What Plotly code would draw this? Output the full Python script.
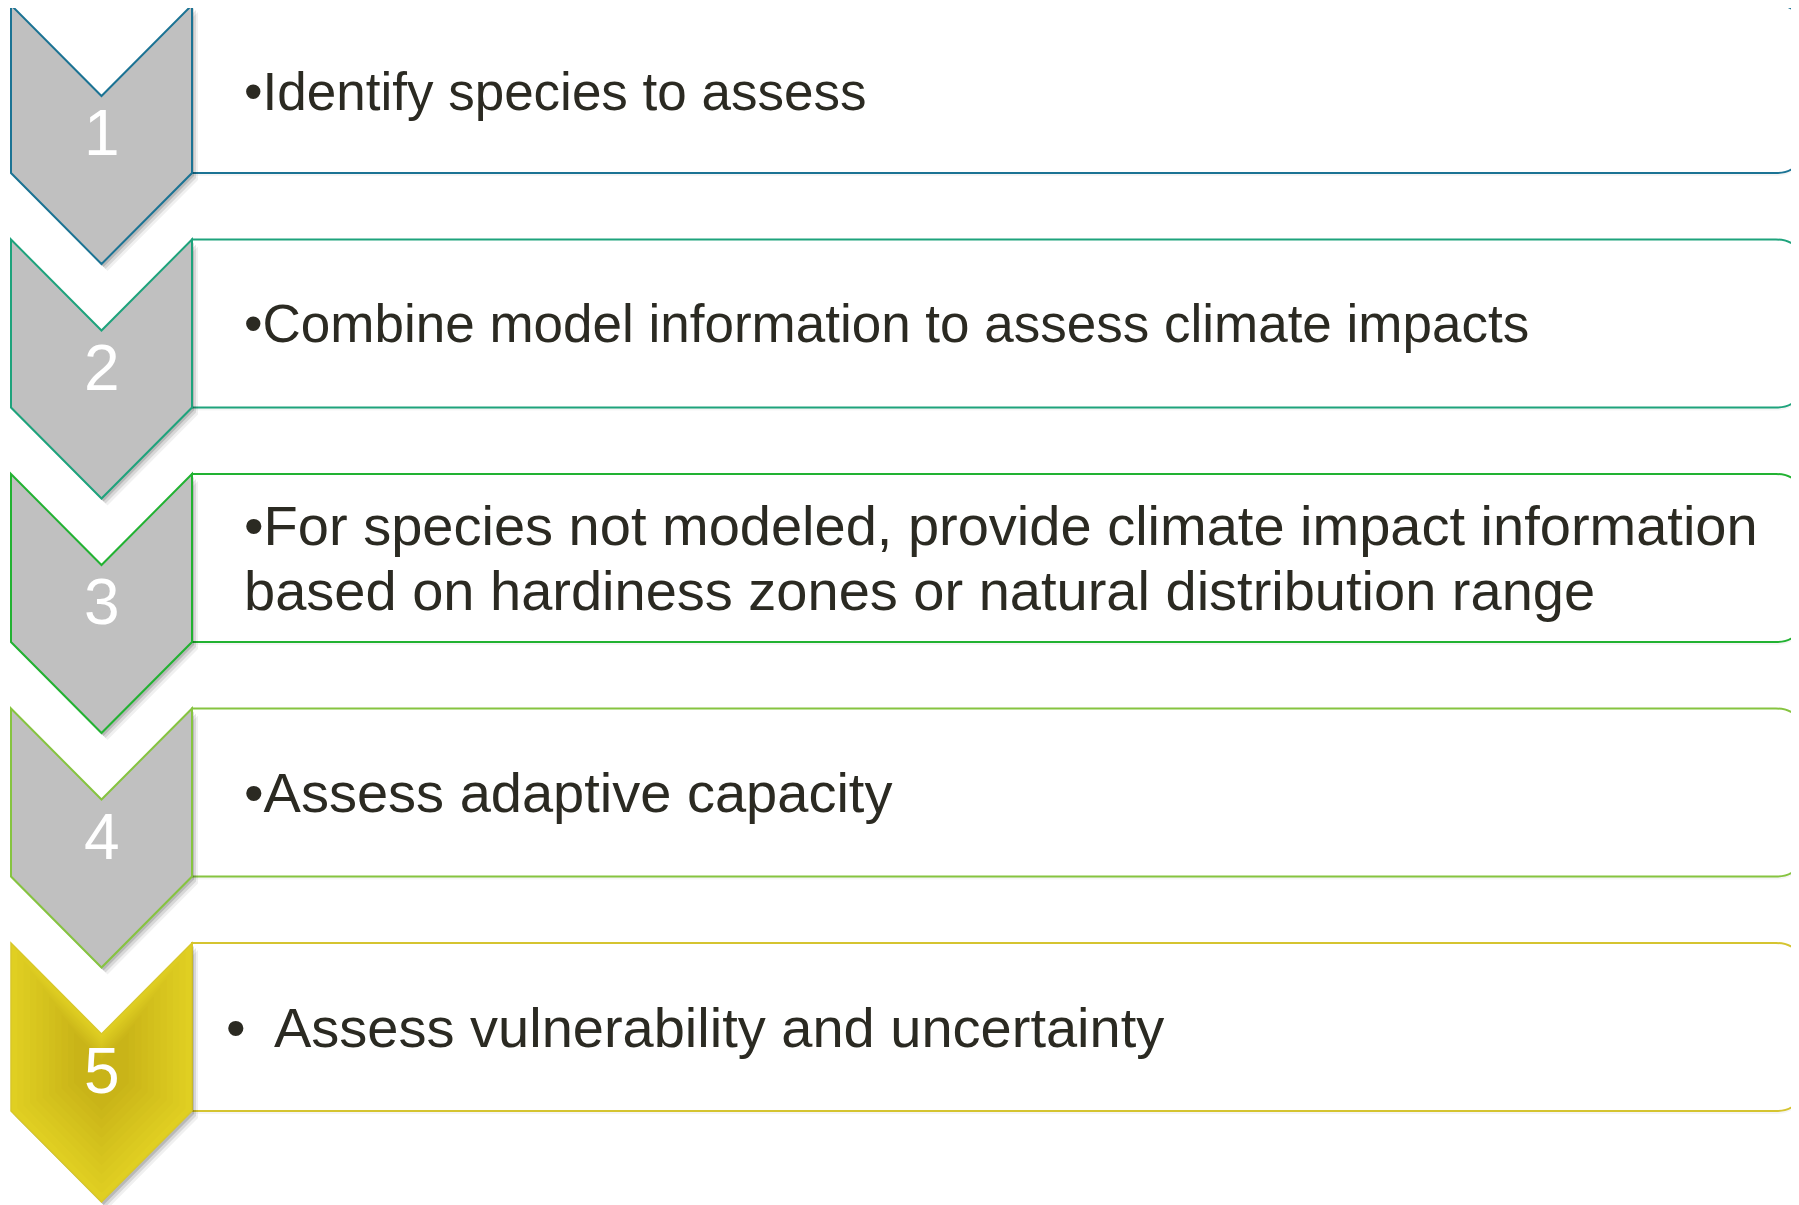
import plotly.graph_objects as go

# ---- data ----
step_numbers = ["1", "2", "3", "4", "5"]
step_lines = [
    ["•Identify species to assess"],
    ["•Combine model information to assess climate impacts"],
    ["•For species not modeled, provide climate impact information",
     "based on hardiness zones or natural distribution range"],
    ["•Assess adaptive capacity"],
    ["•", "Assess vulnerability and uncertainty"],
]
text_sizes = [53, 53, 56, 56, 56]
border_colors = ["#1b7394", "#1ea37c", "#22b232", "#86c440", "#d5c430"]
chevron_fills = ["#c0c0c0", "#c0c0c0", "#c0c0c0", "#c0c0c0", "#dccb20"]

W, H = 1799, 1205
OFF = 8  # page body margin
TOP0 = 5
PITCH = 234.5
CX_L, CX_R = 11, 192
SIDE = 168
NOTCH = 91
BOX_R = 1801
RAD = 25
FONT = "Liberation Sans, Arial, sans-serif"
TEXT_COLOR = "#2b2a22"

shapes = []
annotations = []


def chevron_path(top, dx=0, dy=0, s=1.0, cy=None):
    cx = (CX_L + CX_R) / 2
    pts = [(CX_L, top), (cx, top + NOTCH), (CX_R, top), (CX_R, top + SIDE),
           (cx, top + SIDE + NOTCH), (CX_L, top + SIDE)]
    if cy is None:
        cy = top + SIDE / 2 + NOTCH / 2
    out = []
    for (x, y) in pts:
        x2 = cx + (x - cx) * s + dx
        y2 = cy + (y - cy) * s + dy
        out.append(f"{x2:.1f},{y2:.1f}")
    return "M" + " L".join(out) + " Z"


def mix(c1, c2, t):
    a = [int(c1[i:i + 2], 16) for i in (1, 3, 5)]
    b = [int(c2[i:i + 2], 16) for i in (1, 3, 5)]
    return "#" + "".join(f"{int(round(a[k] + (b[k] - a[k]) * t)):02x}" for k in range(3))


for i, num in enumerate(step_numbers):
    top = TOP0 + PITCH * i
    bot = top + SIDE
    col = border_colors[i]
    fs = text_sizes[i]
    # box shadow
    shapes.append(dict(type="path", xref="x", yref="y",
                       path=f"M{CX_R},{top+3} L{BOX_R-RAD},{top+3} Q{BOX_R},{top+3} {BOX_R},{top+3+RAD} "
                            f"L{BOX_R},{bot+3-RAD} Q{BOX_R},{bot+3} {BOX_R-RAD},{bot+3} L{CX_R},{bot+3} Z",
                       fillcolor="rgba(0,0,0,0.04)", line=dict(width=0), layer="above"))
    # box
    shapes.append(dict(type="path", xref="x", yref="y",
                       path=f"M{CX_R},{top} L{BOX_R-RAD},{top} Q{BOX_R},{top} {BOX_R},{top+RAD} "
                            f"L{BOX_R},{bot-RAD} Q{BOX_R},{bot} {BOX_R-RAD},{bot} L{CX_R},{bot} Z",
                       fillcolor="white", line=dict(color=col, width=2), layer="above"))
    # chevron shadow
    for dx, dy, a in [(6, 7, 0.06), (4, 5, 0.10), (2, 3, 0.14)]:
        shapes.append(dict(type="path", xref="x", yref="y", path=chevron_path(top, dx, dy),
                           fillcolor=f"rgba(0,0,0,{a})", line=dict(width=0), layer="above"))
    # chevron
    if i < 4:
        shapes.append(dict(type="path", xref="x", yref="y", path=chevron_path(top),
                           fillcolor=chevron_fills[i], line=dict(color=col, width=2), layer="above"))
    else:
        shapes.append(dict(type="path", xref="x", yref="y", path=chevron_path(top),
                           fillcolor="#e0cf22", line=dict(color="#d8c82a", width=1.5), layer="above"))
        cy = top + 128
        n = 10
        for k in range(1, n + 1):
            s = 1 - k * 0.07
            shapes.append(dict(type="path", xref="x", yref="y",
                               path=chevron_path(top, s=s, cy=cy),
                               fillcolor=mix("#e0cf22", "#c9b418", k / n),
                               line=dict(width=0), layer="above"))
    # number
    annotations.append(dict(x=(CX_L + CX_R) / 2, y=top + 128, xref="x", yref="y",
                            text=num, showarrow=False, xanchor="center", yanchor="middle",
                            font=dict(family=FONT, size=64, color="white")))
    # texts
    lines = step_lines[i]
    cyb = (top + bot) / 2
    if i == 4:
        annotations.append(dict(x=224, y=cyb, xref="x", yref="y", text=lines[0],
                                showarrow=False, xanchor="left", yanchor="middle",
                                font=dict(family=FONT, size=fs, color=TEXT_COLOR)))
        annotations.append(dict(x=272, y=cyb, xref="x", yref="y", text=lines[1],
                                showarrow=False, xanchor="left", yanchor="middle",
                                font=dict(family=FONT, size=fs, color=TEXT_COLOR)))
    else:
        nl = len(lines)
        for j, t in enumerate(lines):
            y = cyb + (j - (nl - 1) / 2) * 65
            if i == 0:
                y = cyb + 2
            annotations.append(dict(x=242, y=y, xref="x", yref="y", text=t,
                                    showarrow=False, xanchor="left", yanchor="middle",
                                    font=dict(family=FONT, size=fs, color=TEXT_COLOR)))

fig = go.Figure()
fig.add_trace(go.Scatter(x=[OFF, W], y=[OFF, H], mode="markers", marker=dict(opacity=0),
                         hoverinfo="skip", showlegend=False))
fig.update_layout(
    width=W, height=H, margin=dict(l=0, r=0, t=0, b=0),
    paper_bgcolor="white", plot_bgcolor="white",
    xaxis=dict(range=[OFF, W + OFF], visible=False, fixedrange=True),
    yaxis=dict(range=[H + OFF, OFF], visible=False, fixedrange=True),
    shapes=shapes, annotations=annotations, showlegend=False,
)
fig.write_html("out.html")
